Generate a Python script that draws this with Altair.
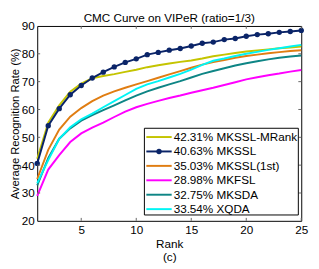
import altair as alt
import pandas as pd

ranks = list(range(1, 26))
series = ["MKSSL-MRank", "MKSSL", "MKSSL(1st)", "MKFSL", "MKSDA", "XQDA"]
legend_labels = ["42.31% MKSSL-MRank", "40.63% MKSSL", "35.03% MKSSL(1st)",
                 "28.98% MKFSL", "32.75% MKSDA", "33.54% XQDA"]
colors = ["#C4C400", "#0A2468", "#E07D12", "#FF00FF", "#0E8585", "#00F5F5"]

mkssl_mrank = [42.31, 55.3, 61.5, 66.4, 69.3, 71.2, 72.0, 72.7, 73.5, 74.3, 75.2, 75.9, 76.5,
               77.1, 77.6, 78.3, 79.1, 79.7, 80.3, 80.8, 81.2, 81.6, 82.0, 82.3, 82.6]
mkssl = [40.63, 54.2, 60.3, 65.3, 68.6, 71.3, 73.4, 75.3, 76.9, 78.2, 79.7, 80.5, 81.3,
         81.9, 82.8, 83.8, 84.2, 85.1, 85.5, 86.3, 86.9, 87.2, 87.7, 88.0, 88.4]
mkssl_1st = [35.03, 45.5, 52.8, 57.4, 60.5, 63.0, 65.0, 66.5, 67.8, 69.0, 70.2, 71.4, 72.6,
             73.8, 75.0, 76.1, 77.0, 77.8, 78.6, 79.2, 79.7, 80.2, 80.6, 81.0, 81.3]
mkfsl = [28.98, 38.4, 43.6, 48.3, 51.4, 53.5, 55.3, 57.3, 59.2, 60.8, 62.0, 63.1, 64.1,
         65.0, 66.0, 66.9, 67.8, 68.8, 69.8, 70.8, 71.6, 72.3, 72.9, 73.6, 74.2]
mksda = [32.75, 42.5, 49.5, 53.2, 56.0, 58.0, 59.8, 61.5, 63.3, 65.0, 66.5, 67.8, 69.0,
         70.2, 71.5, 72.8, 73.8, 74.8, 75.8, 76.6, 77.3, 78.0, 78.6, 79.0, 79.4]
xqda = [33.54, 41.8, 49.5, 53.6, 56.5, 58.5, 60.8, 63.0, 65.2, 67.4, 69.0, 70.2, 71.5,
        72.8, 74.3, 76.0, 77.5, 78.3, 79.2, 80.0, 80.7, 81.4, 82.0, 82.6, 83.2]

x_ticks = [5, 10, 15, 20, 25]
y_ticks = [20, 30, 40, 50, 60, 70, 80, 90]

values = [mkssl_mrank, mkssl, mkssl_1st, mkfsl, mksda, xqda]
rows = []
for name, vals in zip(series, values):
    for r, v in zip(ranks, vals):
        rows.append({"series": name, "rank": r, "rate": v})
df = pd.DataFrame(rows)
df_mkssl = df[df["series"] == "MKSSL"]

leg = pd.DataFrame({"series": series, "label": legend_labels, "idx": list(range(len(series)))})
leg_mkssl = leg[leg["series"] == "MKSSL"]

FONT = "Liberation Sans"
W, H = 271, 200

color_enc = alt.Color("series:N", scale=alt.Scale(domain=series, range=colors), legend=None)
xs = alt.Scale(domain=[1, 25], nice=False)
ys = alt.Scale(domain=[20, 90], nice=False)

lines = alt.Chart(df).mark_line(strokeWidth=2).encode(
    x=alt.X("rank:Q", scale=xs, title=["Rank", "(c)"],
            axis=alt.Axis(values=x_ticks, ticks=False, grid=False, labelPadding=4,
                          titlePadding=3, domain=False, labelFlush=False)),
    y=alt.Y("rate:Q", scale=ys, title="Average Recognition Rate (%)",
            axis=alt.Axis(values=y_ticks, ticks=False, grid=False, labelPadding=3,
                          titlePadding=1, domain=False, labelFlush=False)),
    color=color_enc,
)

pts = alt.Chart(df_mkssl).mark_point(filled=True, size=30, opacity=1).encode(
    x=alt.X("rank:Q", scale=xs),
    y=alt.Y("rate:Q", scale=ys, axis=None),
    color=color_enc,
)

tick_x_df = pd.DataFrame({"t": x_ticks})
tick_y_df = pd.DataFrame({"t": y_ticks[1:-1]})
tick_style = dict(color="#666666", strokeWidth=1)
xt_bot = alt.Chart(tick_x_df).mark_rule(**tick_style).encode(
    x=alt.X("t:Q", scale=xs), y=alt.value(H), y2=alt.value(H - 3))
xt_top = alt.Chart(tick_x_df).mark_rule(**tick_style).encode(
    x=alt.X("t:Q", scale=xs), y=alt.value(0), y2=alt.value(3))
yt_l = alt.Chart(tick_y_df).mark_rule(**tick_style).encode(
    y=alt.Y("t:Q", scale=ys, axis=None), x=alt.value(0), x2=alt.value(3))
yt_r = alt.Chart(tick_y_df).mark_rule(**tick_style).encode(
    y=alt.Y("t:Q", scale=ys, axis=None), x=alt.value(W), x2=alt.value(W - 3))

leg_y = alt.Y("idx:Q", scale=alt.Scale(domain=[0, 5], range=[114, 188]), axis=None)
leg_box = alt.Chart(pd.DataFrame({"a": [0]})).mark_rect(
    fill="white", stroke="black", strokeWidth=1).encode(
    x=alt.value(110), x2=alt.value(268), y=alt.value(105), y2=alt.value(194))
leg_lines = alt.Chart(leg).mark_rule(strokeWidth=2).encode(
    x=alt.value(112), x2=alt.value(138), y=leg_y, color=color_enc)
leg_pt = alt.Chart(leg_mkssl).mark_point(filled=True, size=30, opacity=1).encode(
    x=alt.value(125), y=leg_y, color=color_enc)
leg_text = alt.Chart(leg).mark_text(align="left", baseline="middle", font=FONT,
                                    fontSize=12, color="black").encode(
    x=alt.value(140), y=leg_y, text="label:N")

chart = alt.layer(
    lines, pts, xt_bot, xt_top, yt_l, yt_r, leg_box, leg_lines, leg_pt, leg_text
).resolve_scale(y="independent").properties(
    width=W, height=H,
    title=alt.TitleParams("CMC Curve on VIPeR (ratio=1/3)", font=FONT, fontSize=12,
                          fontWeight="normal", offset=2, anchor="middle", color="black",
                          dy=7),
    autosize=alt.AutoSizeParams(type="none"),
    padding={"left": 30, "top": 15, "right": 10, "bottom": 46},
).configure_view(stroke="black", strokeWidth=1).configure_axis(
    labelFont=FONT, titleFont=FONT, labelFontSize=12, titleFontSize=11.5,
    labelColor="black", titleColor="black", titleFontWeight="normal",
    titleLineHeight=14,
).configure_axisX(titleFontSize=12)

chart.save("out.html", embed_options={"renderer": "svg", "actions": False})
